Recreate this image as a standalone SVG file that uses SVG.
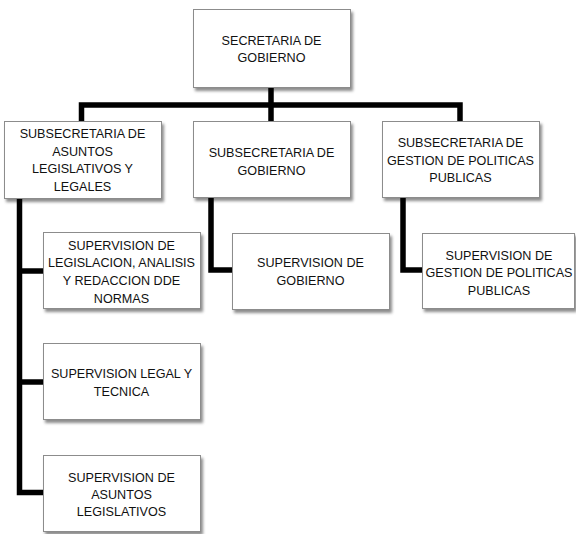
<svg xmlns="http://www.w3.org/2000/svg" width="576" height="534" viewBox="0 0 576 534">
<defs>
<filter id="sh" x="-10%" y="-10%" width="130%" height="140%">
<feDropShadow dx="2" dy="3" stdDeviation="1.6" flood-color="#000" flood-opacity="0.45"/>
</filter>
<style>
.box{fill:#fff;stroke:#8c8c8c;stroke-width:1;filter:url(#sh)}
.t{font-family:"Liberation Sans",Arial,sans-serif;font-size:12.6px;fill:#111;text-anchor:middle}
.c{fill:none;stroke:#000;stroke-width:5.5;stroke-linejoin:miter;stroke-linecap:butt}
</style>
</defs>
<rect width="576" height="534" fill="#fff"/>
<g id="connectors">
<path class="c" d="M271,88 V105"/>
<path class="c" d="M81.5,121 V105 H460 V121"/>
<path class="c" d="M271,105 V121"/>
<path class="c" d="M19.5,198 V492.5 H43"/>
<path class="c" d="M19.5,271 H43"/>
<path class="c" d="M19.5,382 H43"/>
<path class="c" d="M211,198 V270 H232"/>
<path class="c" d="M403,198 V270 H422"/>
</g>
<g id="secretaria">
<rect class="box" x="193.5" y="9.5" width="157" height="78"/>
<text class="t" x="271.5" y="44.5">SECRETARIA DE</text>
<text class="t" x="271.5" y="62">GOBIERNO</text>
</g>
<g id="sub-asuntos">
<rect class="box" x="4.5" y="121.5" width="157" height="77"/>
<text class="t" x="82.5" y="138.2">SUBSECRETARIA DE</text>
<text class="t" x="82.5" y="155.7">ASUNTOS</text>
<text class="t" x="82.5" y="173.2">LEGISLATIVOS Y</text>
<text class="t" x="82.5" y="190.7">LEGALES</text>
</g>
<g id="sub-gobierno">
<rect class="box" x="193.5" y="121.5" width="157" height="76"/>
<text class="t" x="271.5" y="157">SUBSECRETARIA DE</text>
<text class="t" x="271.5" y="174.5">GOBIERNO</text>
</g>
<g id="sub-gestion">
<rect class="box" x="382.5" y="121.5" width="157" height="76"/>
<text class="t" x="460.5" y="147">SUBSECRETARIA DE</text>
<text class="t" x="460.5" y="164.5">GESTION DE POLITICAS</text>
<text class="t" x="460.5" y="182">PUBLICAS</text>
</g>
<g id="sup-legislacion">
<rect class="box" x="43.5" y="232.5" width="157" height="76"/>
<text class="t" x="121.5" y="249.5">SUPERVISION DE</text>
<text class="t" x="121.5" y="267.4">LEGISLACION, ANALISIS</text>
<text class="t" x="121.5" y="285.3">Y REDACCION DDE</text>
<text class="t" x="121.5" y="303.2">NORMAS</text>
</g>
<g id="sup-legal">
<rect class="box" x="43.5" y="343.5" width="157" height="76"/>
<text class="t" x="121.5" y="378.3">SUPERVISION LEGAL Y</text>
<text class="t" x="121.5" y="396.3">TECNICA</text>
</g>
<g id="sup-asuntos">
<rect class="box" x="43.5" y="455.5" width="157" height="76"/>
<text class="t" x="121.5" y="481.5">SUPERVISION DE</text>
<text class="t" x="121.5" y="498.7">ASUNTOS</text>
<text class="t" x="121.5" y="515.9">LEGISLATIVOS</text>
</g>
<g id="sup-gobierno">
<rect class="box" x="232.5" y="233.5" width="157" height="76"/>
<text class="t" x="310.5" y="266.5">SUPERVISION DE</text>
<text class="t" x="310.5" y="284.5">GOBIERNO</text>
</g>
<g id="sup-gestion">
<rect class="box" x="422.5" y="233.5" width="152" height="75"/>
<text class="t" x="499" y="259.5">SUPERVISION DE</text>
<text class="t" x="499" y="277">GESTION DE POLITICAS</text>
<text class="t" x="499" y="294.5">PUBLICAS</text>
</g>
</svg>
